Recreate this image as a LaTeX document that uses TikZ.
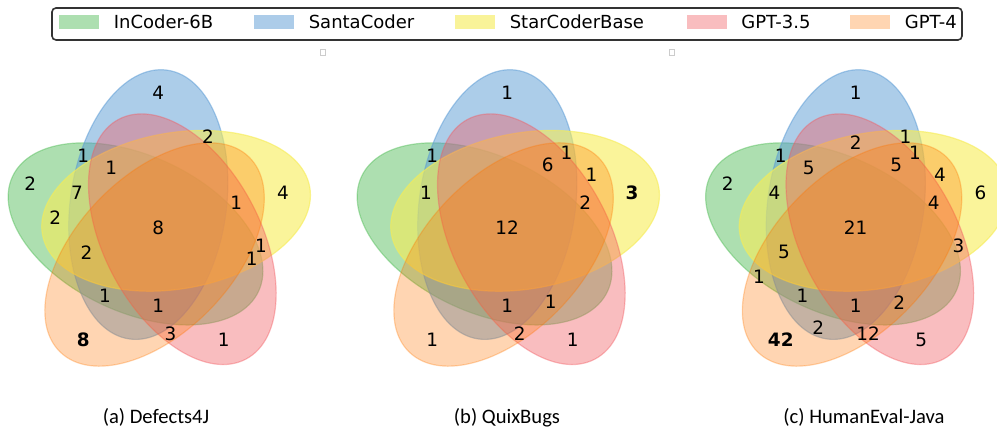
\documentclass[tikz,border=0pt]{standalone}
\usepackage{fontspec}
\newfontfamily\dejavu{DejaVu Sans}
\newfontfamily\capfont{Carlito}
\usetikzlibrary{positioning}

\definecolor{incoder}{RGB}{92,192,98}
\definecolor{santa}{RGB}{90,155,212}
\definecolor{starbase}{RGB}{246,236,86}
\definecolor{gptthree}{RGB}{241,90,96}
\definecolor{gptfour}{RGB}{255,117,0}

\begin{document}
\begin{tikzpicture}[
    x=0.5pt, y=0.5pt,
    setshape/.style 2 args={fill=#1, draw=#1, fill opacity=#2, draw opacity=#2, line width=0.6pt},
    count/.style={font=\dejavu\fontsize{9.2}{11}\selectfont, inner sep=0pt, xshift=-1.5pt},
    bigcount/.style={count, font=\dejavu\bfseries\fontsize{9.2}{11}\selectfont},
    swatch/.style={rectangle, minimum width=20pt, minimum height=7pt, inner sep=0pt, fill=#1},
    legendtext/.style={font=\dejavu\fontsize{9}{11}\selectfont, inner sep=0pt},
    caption/.style={font=\capfont\fontsize{10.3}{12}\selectfont, inner sep=0pt, anchor=base}
]
    \clip (0,0) rectangle (997,431);

    % five ellipses in every panel
    \foreach \px in {2,351,699.5} {
        \begin{scope}[shift={(\px,57)}, x=156pt, y=156pt]
            \foreach \col/\op/\cx/\cy/\ang in {incoder/0.5/0.428/0.449/155, santa/0.5/0.469/0.543/82, starbase/0.6/0.558/0.523/10, gptthree/0.4/0.578/0.432/118, gptfour/0.3/0.489/0.383/46}
                \path[setshape={\col}{\op}, rotate around={\ang:(\cx,\cy)}] (\cx,\cy) ellipse [x radius=0.435, y radius=0.25];
        \end{scope}
    }

    % Defects4J
    \begin{scope}[shift={(2,57)}, x=156pt, y=156pt]
        \node (a01000) [count] at (0.51,0.90) {4};
        \node (a01100) [count] at (0.67,0.76) {2};
        \node (a11000) [count] at (0.27,0.70) {1};
        \node (a11110) [count] at (0.36,0.66) {1};
        \node (a10000) [count] at (0.10,0.61) {2};
        \node (a11100) [count] at (0.25,0.58) {7};
        \node (a00100) [count] at (0.91,0.58) {4};
        \node (a00111) [count] at (0.76,0.55) {1};
        \node (a10100) [count] at (0.18,0.50) {2};
        \node (a11111) [count] at (0.51,0.47) {8};
        \node (a11101) [count] at (0.28,0.39) {2};
        \node (a00110) [count] at (0.84,0.41) {1};
        \node (a10110) [count] at (0.81,0.37) {1};
        \node (a11001) [count] at (0.34,0.25) {1};
        \node (a11011) [count] at (0.51,0.22) {1};
        \node (a00011) [count] at (0.55,0.13) {3};
        \node (a00001) [bigcount] at (0.27,0.11) {8};
        \node (a00010) [count] at (0.72,0.11) {1};
    \end{scope}

    % QuixBugs
    \begin{scope}[shift={(351,57)}, x=156pt, y=156pt]
        \node (b01000) [count] at (0.51,0.90) {1};
        \node (b11000) [count] at (0.27,0.70) {1};
        \node (b01101) [count] at (0.70,0.71) {1};
        \node (b01111) [count] at (0.64,0.67) {6};
        \node (b00101) [count] at (0.78,0.64) {1};
        \node (b11100) [count] at (0.25,0.58) {1};
        \node (b00100) [bigcount] at (0.91,0.58) {3};
        \node (b00111) [count] at (0.76,0.55) {2};
        \node (b11111) [count] at (0.51,0.47) {12};
        \node (b11011) [count] at (0.51,0.22) {1};
        \node (b10011) [count] at (0.65,0.23) {1};
        \node (b00011) [count] at (0.55,0.13) {2};
        \node (b00001) [count] at (0.27,0.11) {1};
        \node (b00010) [count] at (0.72,0.11) {1};
    \end{scope}

    % HumanEval-Java
    \begin{scope}[shift={(699.5,57)}, x=156pt, y=156pt]
        \node (c01000) [count] at (0.51,0.90) {1};
        \node (c01110) [count] at (0.51,0.74) {2};
        \node (c01100) [count] at (0.67,0.76) {1};
        \node (c01101) [count] at (0.70,0.71) {1};
        \node (c11000) [count] at (0.27,0.70) {1};
        \node (c11110) [count] at (0.36,0.66) {5};
        \node (c01111) [count] at (0.64,0.67) {5};
        \node (c00101) [count] at (0.78,0.64) {4};
        \node (c10000) [count] at (0.10,0.61) {2};
        \node (c11100) [count] at (0.25,0.58) {4};
        \node (c00100) [count] at (0.91,0.58) {6};
        \node (c00111) [count] at (0.76,0.55) {4};
        \node (c11111) [count] at (0.51,0.47) {21};
        \node (c00110) [count] at (0.84,0.41) {3};
        \node (c11101) [count] at (0.28,0.39) {5};
        \node (c10001) [count] at (0.20,0.31) {1};
        \node (c11001) [count] at (0.34,0.25) {1};
        \node (c11011) [count] at (0.51,0.22) {1};
        \node (c10011) [count] at (0.65,0.23) {2};
        \node (c01001) [count] at (0.39,0.15) {2};
        \node (c00011) [count] at (0.55,0.13) {12};
        \node (c00001) [bigcount] at (0.27,0.11) {42};
        \node (c00010) [count] at (0.72,0.11) {5};
    \end{scope}

    % legend
    \node (legend) [draw=black!80, line width=0.8pt, rounded corners=2pt, fill=white, minimum width=455pt, minimum height=16pt, inner sep=0pt] at (507,407) {};
    \node (swincoder) [swatch=incoder, fill opacity=0.5] at (79,409) {};
    \node (swsanta) [swatch=santa, fill opacity=0.5] at (274,409) {};
    \node (swstar) [swatch=starbase, fill opacity=0.6] at (475,409) {};
    \node (swthree) [swatch=gptthree, fill opacity=0.4] at (706.5,409) {};
    \node (swfour) [swatch=gptfour, fill opacity=0.3] at (870,409) {};
    \node (txtincoder) [legendtext, right=7pt of swincoder] {InCoder-6B};
    \node (txtsanta) [legendtext, right=7pt of swsanta] {SantaCoder};
    \node (txtstar) [legendtext, right=7pt of swstar] {StarCoderBase};
    \node (txtthree) [legendtext, right=7pt of swthree] {GPT-3.5};
    \node (txtfour) [legendtext, right=7pt of swfour] {GPT-4};

    % small marks between the panels
    \node (markab) [draw=black!20, line width=0.4pt, minimum size=2.7pt, inner sep=0pt] at (322.8,378.6) {};
    \node (markbc) [draw=black!20, line width=0.4pt, minimum size=2.7pt, inner sep=0pt] at (671.6,378.6) {};

    % captions
    \node (capa) [caption] at (156,7) {(a) Defects4J};
    \node (capb) [caption] at (507,7) {(b) QuixBugs};
    \node (capc) [caption] at (864,7) {(c) HumanEval-Java};
\end{tikzpicture}
\end{document}
